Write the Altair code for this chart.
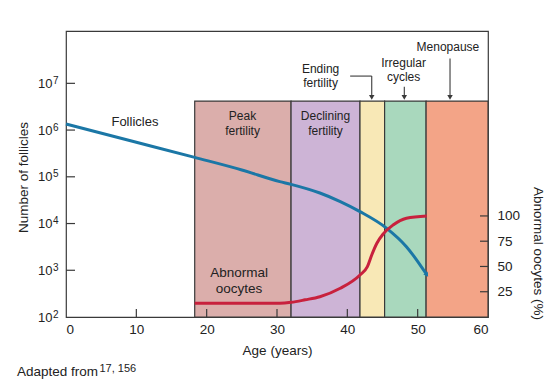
import altair as alt
import pandas as pd

FONT = "Liberation Sans"
TEXT = "#222222"
FRAME = "#3a3a3a"
BLUE = "#1b77a6"
RED = "#c8213d"

# ---- data -------------------------------------------------------------
ages_follicles = [0, 10, 18.3, 25, 30.4, 32, 36.1, 39, 41.8, 45.6, 48.4, 51.3]
follicles = [1.35e6, 5.5e5, 2.6e5, 1.4e5, 7.9e4, 6.9e4, 4.5e4, 2.95e4, 1.8e4, 7.9e3, 3.2e3, 8.0e2]

ages_abnormal = [18.3, 25, 30.4, 32, 34, 36.1, 39, 41.8, 42.85, 43.47, 44.2, 45.1, 46.5, 48.4, 51.3]
abnormal_pct = [13.5, 13.5, 13.6, 14.5, 17, 20.1, 28.4, 41.6, 49.8, 61.4, 73, 82.2, 91, 97.7, 100]

band_names = ["Peak fertility", "Declining fertility", "Ending fertility", "Irregular cycles", "Menopause"]
band_start = [18.3, 32.0, 41.8, 45.3, 51.2]
band_end = [32.0, 41.8, 45.3, 51.2, 60.0]
band_colors = ["#dbaeab", "#cdb4d6", "#f8e8b6", "#a9d8bd", "#f3a487"]
band_top = 4.17e6
band_bottom = 100

band_label_text = ["Peak", "fertility", "Declining", "fertility"]
band_label_age = [25.1, 25.1, 36.9, 36.9]
band_label_val = [2.0e6, 9.5e5, 2.0e6, 9.5e5]

annot_text = ["Ending", "fertility", "Irregular", "cycles", "Menopause"]
annot_age = [36.2, 36.2, 48.0, 48.0, 54.3]
annot_val = [2.0e7, 1.0e7, 2.7e7, 1.35e7, 5.9e7]

arrow_x = [40.4, 43.47, 48.1, 54.6]
arrow_x2 = [43.47, 43.47, 48.1, 54.6]
arrow_y = [1.43e7, 1.43e7, 8.5e6, 3.4e7]
arrow_y2 = [1.43e7, 5.0e6, 5.0e6, 5.0e6]
arrowhead_x = [43.47, 48.1, 54.6]
arrowhead_y = [5.0e6, 5.0e6, 5.0e6]

series_text = ["Follicles", "Abnormal", "oocytes"]
series_age = [9.8, 24.6, 24.6]
series_val = [1.5e6, 890, 390]

x_labels = [0, 10, 20, 30, 40, 50, 60]
x_ticks = [10, 20, 30, 40, 50]
y_labels = [1e2, 1e3, 1e4, 1e5, 1e6, 1e7]
y_label_exponents = ["2", "3", "4", "5", "6", "7"]
y_ticks = [1e3, 1e4, 1e5, 1e6, 1e7]
r_labels = [25, 50, 75, 100]

caption_main = "Adapted from"
caption_refs = "17, 156"

# ---- tables -------------------------------------------------------------
df_f = pd.DataFrame({"age": ages_follicles, "n": follicles})
df_a = pd.DataFrame({"age": ages_abnormal, "pct": abnormal_pct})
df_b = pd.DataFrame({"name": band_names, "start": band_start, "end": band_end,
                     "top": [band_top] * 5, "bottom": [band_bottom] * 5})
df_bl = pd.DataFrame({"t": band_label_text, "age": band_label_age, "v": band_label_val})
df_an = pd.DataFrame({"t": annot_text, "age": annot_age, "v": annot_val})
df_ar = pd.DataFrame({"x": arrow_x, "x2": arrow_x2, "y": arrow_y, "y2": arrow_y2})
df_ah = pd.DataFrame({"x": arrowhead_x, "y": arrowhead_y})
df_s = pd.DataFrame({"t": series_text, "age": series_age, "v": series_val,
                     "fs": [13, 13.5, 13.5]})
df_xt = pd.DataFrame({"v": x_ticks})
df_yt = pd.DataFrame({"v": y_ticks})
df_ye = pd.DataFrame({"v": y_labels, "e": y_label_exponents})
df_rt = pd.DataFrame({"v": r_labels})
df_end = pd.DataFrame({"age": [ages_follicles[-1]], "n": [follicles[-1]]})

# ---- scales / axes -------------------------------------------------------
x_scale = alt.Scale(domain=[0, 60], nice=False, zero=False)
y_scale = alt.Scale(type="log", domain=[100, 1.318e8], nice=False)
r_scale = alt.Scale(domain=[0, 283], nice=False)

x_axis = alt.Axis(values=x_labels, title="Age (years)", labelPadding=5,
                  titleY=33, titleBaseline="middle", titleX=211)
y_axis = alt.Axis(values=y_labels, title="Number of follicles", labelPadding=14,
                  labelFontSize=13, labelExpr="'10'",
                  titleAngle=270, titleX=-43, titleY=146, titleBaseline="middle",
                  titleAlign="center")
r_axis = alt.Axis(values=r_labels, orient="right", title="Abnormal oocytes (%)",
                  labelPadding=9, titleAngle=90, titleX=49, titleY=222,
                  titleBaseline="middle", titleAlign="center")

X = lambda f: alt.X(f, scale=x_scale, axis=x_axis)
Y = lambda f: alt.Y(f, scale=y_scale, axis=y_axis)

bands = alt.Chart(df_b).mark_rect(stroke=FRAME, strokeWidth=1.2).encode(
    x=X("start:Q"), x2="end:Q", y=Y("top:Q"), y2="bottom:Q",
    color=alt.Color("name:N", scale=alt.Scale(domain=band_names, range=band_colors), legend=None),
)
blue = alt.Chart(df_f).mark_line(color=BLUE, strokeWidth=3, interpolate="monotone").encode(
    x=X("age:Q"), y=Y("n:Q"))
blue_head = alt.Chart(df_end).mark_point(shape="triangle-down", filled=True, color=BLUE,
                                         size=28, angle=325, opacity=1).encode(
    x=X("age:Q"), y=Y("n:Q"))
band_labels = alt.Chart(df_bl).mark_text(font=FONT, fontSize=12, color=TEXT).encode(
    x=X("age:Q"), y=Y("v:Q"), text="t:N")
annots = alt.Chart(df_an).mark_text(font=FONT, fontSize=12, color=TEXT).encode(
    x=X("age:Q"), y=Y("v:Q"), text="t:N")
arrows = alt.Chart(df_ar).mark_rule(color=FRAME, strokeWidth=1.1).encode(
    x=X("x:Q"), x2="x2:Q", y=Y("y:Q"), y2="y2:Q")
heads = alt.Chart(df_ah).mark_point(shape="triangle-down", filled=True, color=FRAME,
                                    size=30, opacity=1).encode(x=X("x:Q"), y=Y("y:Q"))
series_labels = alt.Chart(df_s).mark_text(font=FONT, color=TEXT).encode(
    x=X("age:Q"), y=Y("v:Q"), text="t:N", size=alt.Size("fs:Q", scale=None))
xticks = alt.Chart(df_xt).mark_rule(color=FRAME, strokeWidth=1.2).encode(
    x=X("v:Q"), y=alt.value(278), y2=alt.value(286))
yticks = alt.Chart(df_yt).mark_rule(color=FRAME, strokeWidth=1.2).encode(
    y=Y("v:Q"), x=alt.value(0), x2=alt.value(9))
y_exps = alt.Chart(df_ye).mark_text(font=FONT, fontSize=10, color=TEXT, align="left",
                                    baseline="alphabetic", dy=0.5).encode(
    y=Y("v:Q"), x=alt.value(-13), text="e:N")
caption = alt.Chart(pd.DataFrame({"t": [caption_main]})).mark_text(
    font=FONT, fontSize=13.5, color=TEXT, align="left", baseline="alphabetic").encode(
    text="t:N", x=alt.value(-49), y=alt.value(345))
caption_sup = alt.Chart(pd.DataFrame({"t": [caption_refs]})).mark_text(
    font=FONT, fontSize=11, color=TEXT, align="left", baseline="alphabetic").encode(
    text="t:N", x=alt.value(33.5), y=alt.value(341))

left = alt.layer(bands, blue, blue_head, band_labels, annots, arrows, heads,
                 series_labels, xticks, yticks, y_exps, caption, caption_sup)

red = alt.Chart(df_a).mark_line(color=RED, strokeWidth=3, interpolate="monotone").encode(
    x=X("age:Q"), y=alt.Y("pct:Q", scale=r_scale, axis=r_axis))
rticks = alt.Chart(df_rt).mark_rule(color=FRAME, strokeWidth=1.2).encode(
    y=alt.Y("v:Q", scale=r_scale, axis=r_axis), x=alt.value(414), x2=alt.value(422))
right = alt.layer(red, rticks)

chart = alt.layer(left, right).resolve_scale(y="independent").properties(
    width=422, height=286,
    autosize=alt.AutoSizeParams(type="none"),
    padding={"left": 58, "top": 23, "right": 59, "bottom": 64},
    background="white",
).configure_view(stroke=FRAME, strokeWidth=1.2).configure_axis(
    labelFont=FONT, titleFont=FONT, labelColor=TEXT, titleColor=TEXT,
    labelFontSize=13.5, titleFontSize=13.5, titleFontWeight="normal",
    grid=False, domain=False, ticks=False,
)

chart.save("out.html", embed_options={"renderer": "svg", "actions": False})
